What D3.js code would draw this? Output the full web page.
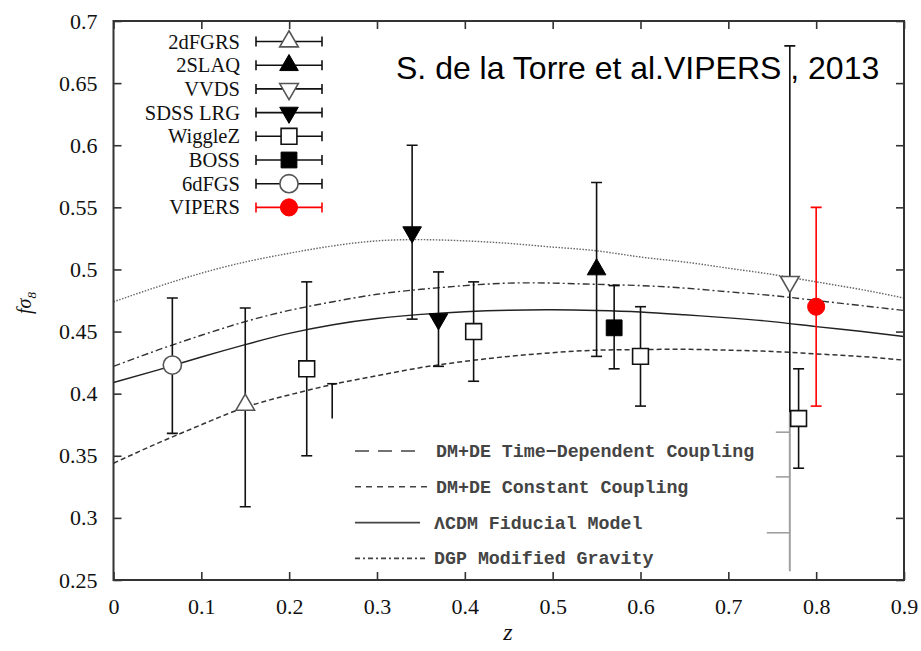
<!DOCTYPE html>
<html>
<head>
<script src="https://d3js.org/d3.v7.min.js" charset="utf-8"></script>
<style>
  body { margin: 0; background: white; }
</style>
</head>
<body>
<script>
// surveys in legend order, with their marker
var surveys = ["2dFGRS", "2SLAQ", "VVDS", "SDSS LRG", "WiggleZ", "BOSS", "6dFGS", "VIPERS"];
var markers = ["triUpOpen", "triUp", "triDownOpen", "triDown", "squareOpen", "square", "circleOpen", "circleRed"];

// measurements (survey index, z, f sigma8, lower and upper end of error bar)
var pointSurvey = [6, 0, 4, 3, 3, 4, 1, 5, 4, 2, 4, 7];
var pointZ  = [0.067, 0.15, 0.22, 0.34, 0.37, 0.41, 0.55, 0.57, 0.60, 0.77, 0.78, 0.80];
var pointF  = [0.423, 0.391, 0.42, 0.53, 0.46, 0.45, 0.50, 0.453, 0.43, 0.49, 0.38, 0.47];
var pointLo = [0.368, 0.309, 0.35, 0.46, 0.422, 0.41, 0.43, 0.42, 0.39, 0.385, 0.34, 0.39];
var pointHi = [0.477, 0.469, 0.49, 0.60, 0.498, 0.49, 0.57, 0.487, 0.47, 0.68, 0.42, 0.55];
var pointLoCap = [1, 1, 1, 1, 1, 1, 1, 1, 1, 0, 1, 1];

// model curves
var modelZ     = [0, 0.05, 0.1, 0.15, 0.2, 0.25, 0.3, 0.35, 0.4, 0.45, 0.5, 0.55, 0.6, 0.65, 0.7, 0.75, 0.8, 0.85, 0.9];
var timeDep    = [0.474, 0.486, 0.497, 0.506, 0.513, 0.519, 0.523, 0.524, 0.523, 0.521, 0.518, 0.515, 0.510, 0.506, 0.501, 0.496, 0.490, 0.484, 0.477];
var dgp        = [0.422, 0.435, 0.447, 0.458, 0.467, 0.474, 0.480, 0.484, 0.487, 0.489, 0.489, 0.488, 0.487, 0.485, 0.482, 0.479, 0.475, 0.471, 0.467];
var lcdm       = [0.409, 0.419, 0.4295, 0.4395, 0.4485, 0.4555, 0.4605, 0.4638, 0.466, 0.4672, 0.4675, 0.467, 0.4658, 0.4635, 0.461, 0.458, 0.454, 0.4502, 0.446];
var constCoup  = [0.344, 0.360, 0.375, 0.389, 0.399, 0.4075, 0.4145, 0.421, 0.426, 0.430, 0.433, 0.435, 0.4355, 0.4357, 0.435, 0.434, 0.432, 0.430, 0.427];

var modelNames = ["DM+DE Time\u2212Dependent Coupling", "DM+DE Constant Coupling", "\u039BCDM Fiducial Model", "DGP Modified Gravity"];
var legendDash = ["14,9", "6,5", null, "5,3,2,3"];

// stray bits of the pasted figure
var fragZ = [0.249], fragLo = [0.38], fragHi = [0.408];
var seamZ = 0.77, seamLo = 0.257, seamHi = 0.385;
var seamTickF = [0.369, 0.333, 0.288], seamTickLen = [14, 14, 23];

var xTicks = [0, 0.1, 0.2, 0.3, 0.4, 0.5, 0.6, 0.7, 0.8, 0.9];
var yTicks = [0.25, 0.3, 0.35, 0.4, 0.45, 0.5, 0.55, 0.6, 0.65, 0.7];

var svg = d3.select("body").append("svg")
    .attr("width", 921).attr("height", 651)
    .style("background", "white");

var x = d3.scaleLinear().domain([0, 0.9]).range([113.5, 904]);
var y = d3.scaleLinear().domain([0.25, 0.7]).range([580, 21]);

svg.append("clipPath").attr("id", "plotclip").append("rect")
    .attr("x", x(0)).attr("y", y(0.7))
    .attr("width", x(0.9) - x(0)).attr("height", y(0.25) - y(0.7));

// axes, ticks inside on all four sides
var fmt = function (d) { return d === 0 ? "0" : String(d); };
var tickFont = "Liberation Serif, Times New Roman, serif";

var gx = svg.append("g").attr("transform", "translate(0," + y(0.25) + ")")
    .call(d3.axisBottom(x).tickValues(xTicks).tickSize(-8).tickSizeOuter(0).tickPadding(18).tickFormat(fmt));
var gx2 = svg.append("g").attr("transform", "translate(0," + y(0.7) + ")")
    .call(d3.axisTop(x).tickValues(xTicks).tickSize(-8).tickSizeOuter(0).tickFormat(""));
var gy = svg.append("g").attr("transform", "translate(" + x(0) + ",0)")
    .call(d3.axisLeft(y).tickValues(yTicks).tickSize(-8).tickSizeOuter(0).tickPadding(16).tickFormat(fmt));
var gy2 = svg.append("g").attr("transform", "translate(" + x(0.9) + ",0)")
    .call(d3.axisRight(y).tickValues(yTicks).tickSize(-8).tickSizeOuter(0).tickFormat(""));

[gx, gx2, gy, gy2].forEach(function (g) {
    g.select(".domain").remove();
    g.selectAll(".tick line").attr("stroke", "#333").attr("stroke-width", 1.6);
    g.selectAll(".tick text").attr("font-family", tickFont).attr("font-size", 22).attr("fill", "#111");
});

// model curves
var plot = svg.append("g").attr("clip-path", "url(#plotclip)");
var curve = d3.line()
    .x(function (d, i) { return x(modelZ[i]); })
    .y(function (d) { return y(d); })
    .curve(d3.curveNatural);

plot.append("path").attr("d", curve(timeDep)).attr("fill", "none")
    .attr("stroke", "#666").attr("stroke-width", 1.4).attr("stroke-dasharray", "1.5,1.5");
plot.append("path").attr("d", curve(dgp)).attr("fill", "none")
    .attr("stroke", "#333").attr("stroke-width", 1.4).attr("stroke-dasharray", "7,3,2,3");
plot.append("path").attr("d", curve(lcdm)).attr("fill", "none")
    .attr("stroke", "#222").attr("stroke-width", 1.4);
plot.append("path").attr("d", curve(constCoup)).attr("fill", "none")
    .attr("stroke", "#333").attr("stroke-width", 1.5).attr("stroke-dasharray", "5,3");

// marker drawing
var triArea = 150, sqArea = 250, circArea = 260, redArea = 230;
function drawMarker(g, kind, cx, cy) {
    var m;
    if (kind === "triUpOpen" || kind === "triUp" || kind === "triDownOpen" || kind === "triDown") {
        m = g.append("path").attr("d", d3.symbol().type(d3.symbolTriangle).size(triArea)());
        var rot = kind.indexOf("Down") > 0 ? 180 : 0;
        m.attr("transform", "translate(" + cx + "," + cy + ") rotate(" + rot + ")");
    } else if (kind === "squareOpen" || kind === "square") {
        m = g.append("path").attr("d", d3.symbol().type(d3.symbolSquare).size(sqArea)())
            .attr("transform", "translate(" + cx + "," + cy + ")");
    } else if (kind === "circleOpen") {
        m = g.append("path").attr("d", d3.symbol().type(d3.symbolCircle).size(circArea)())
            .attr("transform", "translate(" + cx + "," + cy + ")");
    } else {
        m = g.append("path").attr("d", d3.symbol().type(d3.symbolCircle).size(redArea)())
            .attr("transform", "translate(" + cx + "," + cy + ")");
    }
    var open = kind.indexOf("Open") > 0;
    if (kind === "circleRed") {
        m.attr("fill", "#f00").attr("stroke", "#f00").attr("stroke-width", 1);
    } else if (open) {
        m.attr("fill", "white").attr("stroke", kind === "squareOpen" ? "#111" : "#555").attr("stroke-width", 1.6);
    } else {
        m.attr("fill", "#000").attr("stroke", "#000").attr("stroke-width", 1);
    }
}

// seam of the pasted legend box
plot.append("line")
    .attr("x1", x(seamZ)).attr("x2", x(seamZ)).attr("y1", y(seamHi)).attr("y2", y(seamLo))
    .attr("stroke", "#a0a0a0").attr("stroke-width", 2);
seamTickF.forEach(function (f, i) {
    plot.append("line")
        .attr("x1", x(seamZ) - seamTickLen[i]).attr("x2", x(seamZ)).attr("y1", y(f)).attr("y2", y(f))
        .attr("stroke", "#a0a0a0").attr("stroke-width", 1.6);
});

// fragment of an error bar
fragZ.forEach(function (z, i) {
    plot.append("line").attr("x1", x(z)).attr("x2", x(z)).attr("y1", y(fragHi[i])).attr("y2", y(fragLo[i]))
        .attr("stroke", "#111").attr("stroke-width", 1.6);
    plot.append("line").attr("x1", x(z) - 5).attr("x2", x(z) + 5).attr("y1", y(fragHi[i])).attr("y2", y(fragHi[i]))
        .attr("stroke", "#111").attr("stroke-width", 1.6);
});

// error bars and points
var pts = plot.append("g");
pointZ.forEach(function (z, i) {
    var col = pointSurvey[i] === 7 ? "#f00" : "#111";
    var px = x(z);
    pts.append("line").attr("x1", px).attr("x2", px).attr("y1", y(pointHi[i])).attr("y2", y(pointLo[i]))
        .attr("stroke", col).attr("stroke-width", 1.6);
    pts.append("line").attr("x1", px - 5.5).attr("x2", px + 5.5).attr("y1", y(pointHi[i])).attr("y2", y(pointHi[i]))
        .attr("stroke", col).attr("stroke-width", 1.6);
    if (pointLoCap[i]) {
        pts.append("line").attr("x1", px - 5.5).attr("x2", px + 5.5).attr("y1", y(pointLo[i])).attr("y2", y(pointLo[i]))
            .attr("stroke", col).attr("stroke-width", 1.6);
    }
    drawMarker(pts, markers[pointSurvey[i]], px, y(pointF[i]));
});

// frame
svg.append("rect")
    .attr("x", x(0)).attr("y", y(0.7))
    .attr("width", x(0.9) - x(0)).attr("height", y(0.25) - y(0.7))
    .attr("fill", "none").attr("stroke", "#333").attr("stroke-width", 2);

// survey legend (top left)
var leg = svg.append("g");
surveys.forEach(function (name, i) {
    var cy = 41.5 + i * 23.7;
    var col = i === 7 ? "#f00" : "#111";
    leg.append("text").attr("x", 240).attr("y", cy + 7).attr("text-anchor", "end")
        .attr("font-family", tickFont).attr("font-size", 20.5).attr("fill", "#111").text(name);
    leg.append("line").attr("x1", 256).attr("x2", 322).attr("y1", cy).attr("y2", cy)
        .attr("stroke", col).attr("stroke-width", 1.6);
    [256, 322].forEach(function (cx) {
        leg.append("line").attr("x1", cx).attr("x2", cx).attr("y1", cy - 5).attr("y2", cy + 5)
            .attr("stroke", col).attr("stroke-width", 1.6);
    });
    drawMarker(leg, markers[i], 289, cy);
});

// model legend (bottom)
var mleg = svg.append("g");
modelNames.forEach(function (name, i) {
    var cy = 451 + i * 35.8;
    var ln = mleg.append("line").attr("x1", 355).attr("x2", i === 0 || i === 2 ? 420 : 427)
        .attr("y1", cy).attr("y2", cy)
        .attr("stroke", "#444").attr("stroke-width", 1.6);
    if (legendDash[i]) ln.attr("stroke-dasharray", legendDash[i]);
    mleg.append("text").attr("x", i === 0 || i === 1 ? 436 : 434).attr("y", cy + 6)
        .attr("font-family", "Liberation Mono, Courier New, monospace").attr("font-weight", "bold")
        .attr("font-size", 18.3).attr("fill", "#444").text(name);
});

// axis titles
svg.append("text").attr("transform", "translate(31,303) rotate(-90)")
    .attr("text-anchor", "middle").attr("font-family", tickFont).attr("font-style", "italic")
    .attr("font-size", 20).attr("fill", "#111")
    .call(function (t) {
        t.append("tspan").text("f\u03C3");
        t.append("tspan").attr("font-size", 13).attr("dy", 5).text("8");
    });
svg.append("text").attr("x", 508).attr("y", 640).attr("text-anchor", "middle")
    .attr("font-family", tickFont).attr("font-style", "italic").attr("font-size", 24).attr("fill", "#111").text("z");

// annotation
svg.append("text").attr("x", 396).attr("y", 79)
    .attr("font-family", "Liberation Sans, Arial, sans-serif").attr("font-size", 32).attr("fill", "#000")
    .text("S. de la Torre et al.VIPERS , 2013");
</script>
</body>
</html>
